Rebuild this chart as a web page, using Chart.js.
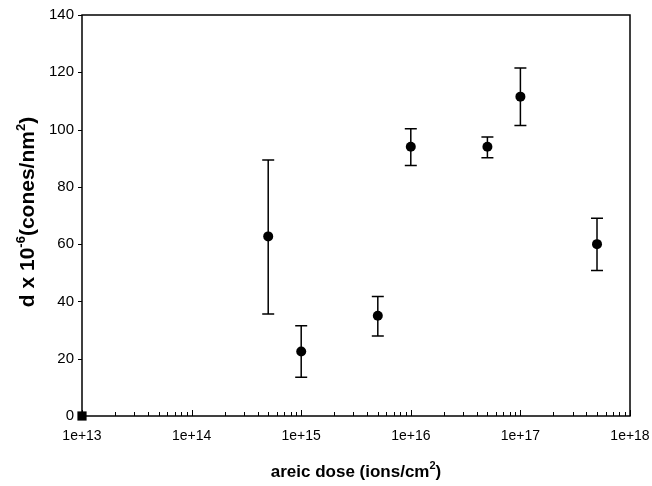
<!DOCTYPE html>
<html>
<head>
<meta charset="utf-8">
<script src="https://cdn.jsdelivr.net/npm/chart.js@4/dist/chart.umd.min.js"></script>
<style>
  html, body { margin: 0; padding: 0; background: #fff; }
  #wrap { width: 652px; height: 486px; }
</style>
</head>
<body>
<div id="wrap"><canvas id="coneChart" width="652" height="486"></canvas></div>
<script>
// ===== data =====
const DOSE     = [1e13, 5e14, 1e15, 5e15, 1e16, 5e16, 1e17, 5e17];
const DENSITY  = [0, 62.7, 22.5, 35.0, 94.0, 94.0, 111.5, 60.0];
const ERR_HIGH = [null, 89.4, 31.5, 41.7, 100.3, 97.4, 121.5, 69.0];
const ERR_LOW  = [null, 35.6, 13.5, 27.9, 87.5, 90.2, 101.4, 50.8];
const X_TICKS  = [1e13, 1e14, 1e15, 1e16, 1e17, 1e18];
const Y_TICKS  = [0, 20, 40, 60, 80, 100, 120, 140];

const FONT = '"Liberation Sans", Arial, Helvetica, sans-serif';

// text with superscripts, parts = [[text, isSup], ...]
function drawParts(ctx, parts, size, align) {
  const supSize = Math.round(size * 0.62);
  let total = 0;
  parts.forEach(([t, sup]) => {
    ctx.font = `bold ${sup ? supSize : size}px ${FONT}`;
    total += ctx.measureText(t).width;
  });
  let x = align === 'center' ? -total / 2 : 0;
  ctx.textAlign = 'left';
  ctx.textBaseline = 'alphabetic';
  parts.forEach(([t, sup]) => {
    ctx.font = `bold ${sup ? supSize : size}px ${FONT}`;
    ctx.fillText(t, x, sup ? -size * 0.45 : 0);
    x += ctx.measureText(t).width;
  });
}

// ===== error bars (behind the markers) =====
const errorBars = {
  id: 'errorBars',
  beforeDatasetsDraw(chart) {
    const { ctx, scales: { x, y } } = chart;
    ctx.save();
    ctx.strokeStyle = '#000';
    ctx.lineWidth = 1.5;
    DOSE.forEach((d, i) => {
      if (ERR_HIGH[i] == null) return;
      const px = x.getPixelForValue(d);
      const top = y.getPixelForValue(ERR_HIGH[i]);
      const bot = y.getPixelForValue(ERR_LOW[i]);
      ctx.beginPath();
      ctx.moveTo(px, top); ctx.lineTo(px, bot);
      ctx.moveTo(px - 6, top); ctx.lineTo(px + 6, top);
      ctx.moveTo(px - 6, bot); ctx.lineTo(px + 6, bot);
      ctx.stroke();
    });
    ctx.restore();
  }
};

// ===== frame, ticks, axis titles =====
const frame = {
  id: 'frame',
  beforeDatasetsDraw(chart) {
    const { ctx, chartArea: a, scales: { x, y } } = chart;
    ctx.save();
    ctx.strokeStyle = '#000';
    ctx.lineWidth = 1.5;
    ctx.strokeRect(a.left, a.top, a.right - a.left, a.bottom - a.top);

    ctx.lineWidth = 1;
    ctx.beginPath();
    // y ticks, outward on the left
    Y_TICKS.forEach(v => {
      const py = Math.round(y.getPixelForValue(v)) + 0.5;
      ctx.moveTo(a.left - 4, py); ctx.lineTo(a.left, py);
    });
    // x ticks, inward, decades + minors
    X_TICKS.forEach((v, k) => {
      const px = Math.round(x.getPixelForValue(v)) + 0.5;
      ctx.moveTo(px, a.bottom); ctx.lineTo(px, a.bottom - 6);
      if (k === X_TICKS.length - 1) return;
      for (let m = 2; m <= 9; m++) {
        const mx = Math.round(x.getPixelForValue(v * m)) + 0.5;
        ctx.moveTo(mx, a.bottom); ctx.lineTo(mx, a.bottom - 4);
      }
    });
    ctx.stroke();
    ctx.restore();
  },
  afterDraw(chart) {
    const { ctx, chartArea: a } = chart;
    ctx.save();
    ctx.fillStyle = '#000';
    // x title
    ctx.translate((a.left + a.right) / 2, 477);
    drawParts(ctx, [['areic dose (ions/cm', false], ['2', true], [')', false]], 17, 'center');
    ctx.restore();

    ctx.save();
    ctx.fillStyle = '#000';
    ctx.translate(34, 212);
    ctx.rotate(-Math.PI / 2);
    drawParts(ctx, [['d x 10', false], ['-6', true], ['(cones/nm', false], ['2', true], [')', false]], 21, 'center');
    ctx.restore();
  }
};

// ===== chart =====
function initChart() {
  const ctx = document.getElementById('coneChart');
  new Chart(ctx, {
    type: 'scatter',
    data: {
      datasets: [{
        data: DOSE.map((d, i) => ({ x: d, y: DENSITY[i] })),
        pointStyle: DOSE.map((d, i) => i === 0 ? 'rect' : 'circle'),
        pointRadius: DOSE.map((d, i) => i === 0 ? 6.5 : 5),
        backgroundColor: '#000',
        borderColor: '#000',
        borderWidth: 0,
        clip: false
      }]
    },
    options: {
      responsive: false,
      animation: false,
      layout: { padding: { top: 15, right: 22, left: 0, bottom: 0 } },
      plugins: { legend: { display: false }, tooltip: { enabled: false } },
      scales: {
        x: {
          type: 'logarithmic',
          min: 1e13, max: 1e18,
          afterBuildTicks: s => { s.ticks = X_TICKS.map(v => ({ value: v })); },
          afterFit: s => { s.height = 70; s.paddingLeft = 0; s.paddingRight = 0; },
          grid: { display: false },
          border: { display: false },
          ticks: {
            autoSkip: false, maxRotation: 0, padding: 4, color: '#000',
            font: { family: FONT, size: 14 },
            callback: v => '1e+' + Math.round(Math.log10(v))
          }
        },
        y: {
          min: 0, max: 140,
          afterBuildTicks: s => { s.ticks = Y_TICKS.map(v => ({ value: v })); },
          afterFit: s => { s.width = 82; s.paddingTop = 0; s.paddingBottom = 0; },
          grid: { display: false },
          border: { display: false },
          ticks: { padding: 0, color: '#000', font: { family: FONT, size: 15 } }
        }
      }
    },
    plugins: [frame, errorBars]
  });
}

document.addEventListener('DOMContentLoaded', initChart);
</script>
</body>
</html>
